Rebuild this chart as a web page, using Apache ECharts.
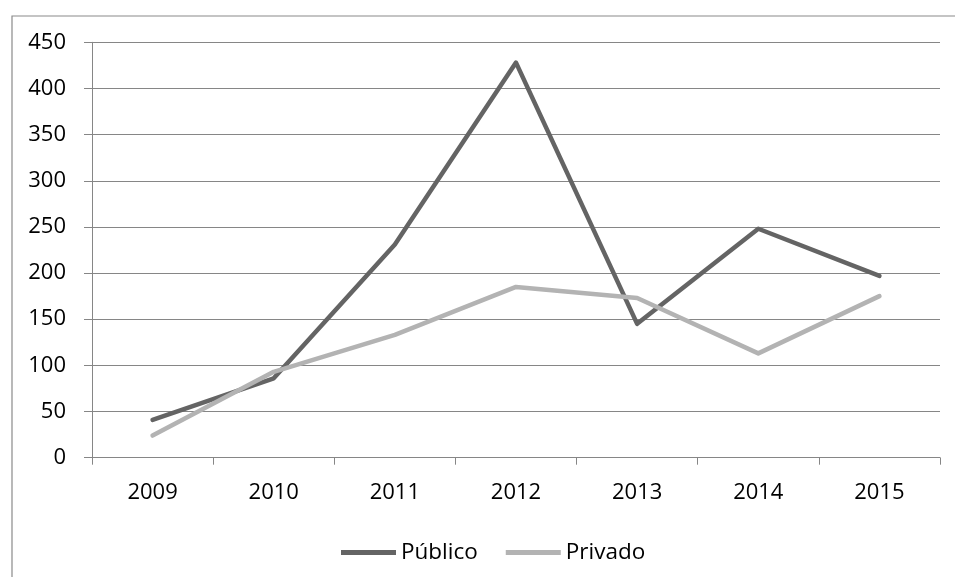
<!DOCTYPE html>
<html>
<head>
<meta charset="utf-8">
<script src="https://cdn.jsdelivr.net/npm/echarts@6/dist/echarts.min.js"></script>
<style>
  html, body { margin: 0; padding: 0; background: #ffffff; }
  #chart { width: 955px; height: 577px; }
</style>
</head>
<body>
<div id="chart"></div>
<script>
// Years on the category axis
const years = ['2009', '2010', '2011', '2012', '2013', '2014', '2015'];
// Yearly totals by sector
const publico = [41, 86, 231, 428, 145, 248, 197];
const privado = [24, 93, 133, 185, 173, 113, 175];
// Value axis range
const yMin = 0;
const yMax = 450;
const yStep = 50;

const FONT = '"Open Sans", "Noto Sans", sans-serif';
const AXIS_GRAY = '#868686';

const chart = echarts.init(document.getElementById('chart'), null, { renderer: 'canvas' });

chart.setOption({
  animation: false,
  backgroundColor: '#ffffff',
  textStyle: { fontFamily: FONT },
  graphic: [{
    type: 'rect',
    left: 9.5,
    top: 13.5,
    shape: { x: 0, y: 0, width: 1000, height: 700 },
    style: { fill: 'none', stroke: '#8a8a8a', lineWidth: 1.2 },
    silent: true,
    z: -1
  }],
  grid: {
    left: 92,
    right: 15,
    top: 42.3,
    bottom: 119.3,
    containLabel: false
  },
  legend: {
    left: 336,
    top: 536,
    padding: 5,
    icon: 'rect',
    itemWidth: 55,
    itemHeight: 5,
    itemGap: 28,
    textStyle: { fontFamily: FONT, fontSize: 22.5, color: '#000000' },
    data: ['Público', 'Privado']
  },
  xAxis: {
    type: 'category',
    data: years,
    boundaryGap: true,
    axisLine: { show: true, lineStyle: { color: AXIS_GRAY, width: 1 } },
    axisTick: { show: true, length: 7, alignWithLabel: false, lineStyle: { color: AXIS_GRAY } },
    axisLabel: { margin: 24, fontFamily: FONT, fontSize: 22, color: '#000000' },
    splitLine: { show: false }
  },
  yAxis: {
    type: 'value',
    min: yMin,
    max: yMax,
    interval: yStep,
    axisLine: { show: true, lineStyle: { color: AXIS_GRAY, width: 1 } },
    axisTick: { show: true, length: 8, lineStyle: { color: AXIS_GRAY } },
    axisLabel: { margin: 26, fontFamily: FONT, fontSize: 22, color: '#000000' },
    splitLine: { show: true, lineStyle: { color: AXIS_GRAY, width: 1 } }
  },
  series: [
    {
      name: 'Público',
      type: 'line',
      data: publico,
      symbol: 'none',
      color: '#646464',
      lineStyle: { width: 4.5, color: '#646464', cap: 'round', join: 'round' },
      z: 3
    },
    {
      name: 'Privado',
      type: 'line',
      data: privado,
      symbol: 'none',
      color: '#b3b3b3',
      lineStyle: { width: 4.5, color: '#b3b3b3', cap: 'round', join: 'round' },
      z: 4
    }
  ]
});
</script>
</body>
</html>
